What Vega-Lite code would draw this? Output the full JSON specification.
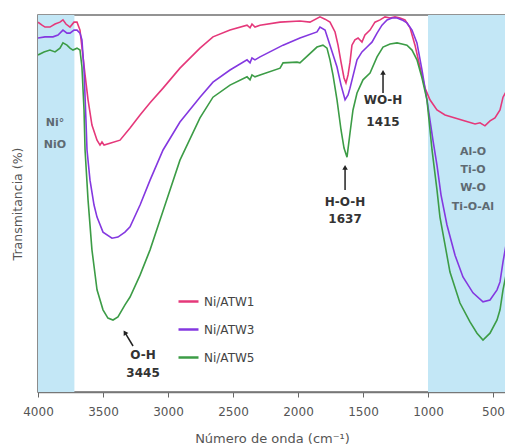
{
  "$schema": "https://vega.github.io/schema/vega-lite/v6.json",
  "autosize": {"type": "none"},
  "width": 468,
  "height": 377,
  "padding": {"left": 38, "top": 15, "right": 0, "bottom": 56},
  "background": "white",
  "config": {
    "view": {"stroke": "#707070", "strokeWidth": 1.6},
    "font": "DejaVu Sans"
  },
  "datasets": {
    "regions": [{"a": 4000, "b": 3720}, {"a": 1000, "b": 400}],
    "spectra": [
      {"s": "Ni/ATW1", "x": 4000, "t": 98.1}, {"s": "Ni/ATW1", "x": 3969, "t": 97.3}, {"s": "Ni/ATW1", "x": 3946, "t": 96.8}, {"s": "Ni/ATW1", "x": 3908, "t": 96.8}, {"s": "Ni/ATW1", "x": 3869, "t": 97.6}, {"s": "Ni/ATW1", "x": 3831, "t": 98.1}, {"s": "Ni/ATW1", "x": 3808, "t": 98.7}, {"s": "Ni/ATW1", "x": 3785, "t": 97.6}, {"s": "Ni/ATW1", "x": 3754, "t": 96.8}, {"s": "Ni/ATW1", "x": 3723, "t": 98.1}, {"s": "Ni/ATW1", "x": 3700, "t": 98.1}, {"s": "Ni/ATW1", "x": 3677, "t": 96.0}, {"s": "Ni/ATW1", "x": 3662, "t": 91.5}, {"s": "Ni/ATW1", "x": 3638, "t": 84.1}, {"s": "Ni/ATW1", "x": 3615, "t": 77.5}, {"s": "Ni/ATW1", "x": 3585, "t": 70.8}, {"s": "Ni/ATW1", "x": 3546, "t": 66.8}, {"s": "Ni/ATW1", "x": 3523, "t": 65.5}, {"s": "Ni/ATW1", "x": 3508, "t": 66.3}, {"s": "Ni/ATW1", "x": 3492, "t": 65.5}, {"s": "Ni/ATW1", "x": 3446, "t": 66.0}, {"s": "Ni/ATW1", "x": 3369, "t": 66.8}, {"s": "Ni/ATW1", "x": 3292, "t": 70.0}, {"s": "Ni/ATW1", "x": 3215, "t": 73.5}, {"s": "Ni/ATW1", "x": 3138, "t": 76.7}, {"s": "Ni/ATW1", "x": 3038, "t": 80.6}, {"s": "Ni/ATW1", "x": 2908, "t": 85.9}, {"s": "Ni/ATW1", "x": 2754, "t": 91.2}, {"s": "Ni/ATW1", "x": 2654, "t": 94.2}, {"s": "Ni/ATW1", "x": 2523, "t": 96.0}, {"s": "Ni/ATW1", "x": 2392, "t": 97.3}, {"s": "Ni/ATW1", "x": 2369, "t": 96.6}, {"s": "Ni/ATW1", "x": 2354, "t": 97.6}, {"s": "Ni/ATW1", "x": 2331, "t": 96.8}, {"s": "Ni/ATW1", "x": 2292, "t": 97.3}, {"s": "Ni/ATW1", "x": 2138, "t": 98.1}, {"s": "Ni/ATW1", "x": 1985, "t": 98.4}, {"s": "Ni/ATW1", "x": 1908, "t": 98.1}, {"s": "Ni/ATW1", "x": 1831, "t": 99.5}, {"s": "Ni/ATW1", "x": 1792, "t": 98.9}, {"s": "Ni/ATW1", "x": 1754, "t": 98.1}, {"s": "Ni/ATW1", "x": 1715, "t": 95.5}, {"s": "Ni/ATW1", "x": 1692, "t": 92.0}, {"s": "Ni/ATW1", "x": 1669, "t": 87.5}, {"s": "Ni/ATW1", "x": 1646, "t": 83.3}, {"s": "Ni/ATW1", "x": 1631, "t": 82.0}, {"s": "Ni/ATW1", "x": 1615, "t": 84.1}, {"s": "Ni/ATW1", "x": 1600, "t": 87.5}, {"s": "Ni/ATW1", "x": 1585, "t": 92.0}, {"s": "Ni/ATW1", "x": 1562, "t": 93.4}, {"s": "Ni/ATW1", "x": 1538, "t": 93.9}, {"s": "Ni/ATW1", "x": 1508, "t": 92.8}, {"s": "Ni/ATW1", "x": 1485, "t": 94.7}, {"s": "Ni/ATW1", "x": 1446, "t": 96.0}, {"s": "Ni/ATW1", "x": 1408, "t": 98.1}, {"s": "Ni/ATW1", "x": 1369, "t": 98.7}, {"s": "Ni/ATW1", "x": 1331, "t": 99.5}, {"s": "Ni/ATW1", "x": 1292, "t": 99.2}, {"s": "Ni/ATW1", "x": 1254, "t": 99.5}, {"s": "Ni/ATW1", "x": 1215, "t": 99.2}, {"s": "Ni/ATW1", "x": 1177, "t": 98.7}, {"s": "Ni/ATW1", "x": 1138, "t": 96.6}, {"s": "Ni/ATW1", "x": 1100, "t": 92.0}, {"s": "Ni/ATW1", "x": 1062, "t": 86.2}, {"s": "Ni/ATW1", "x": 1023, "t": 80.6}, {"s": "Ni/ATW1", "x": 985, "t": 77.5}, {"s": "Ni/ATW1", "x": 931, "t": 74.8}, {"s": "Ni/ATW1", "x": 869, "t": 73.5}, {"s": "Ni/ATW1", "x": 792, "t": 72.7}, {"s": "Ni/ATW1", "x": 715, "t": 71.9}, {"s": "Ni/ATW1", "x": 638, "t": 71.1}, {"s": "Ni/ATW1", "x": 600, "t": 71.4}, {"s": "Ni/ATW1", "x": 562, "t": 70.6}, {"s": "Ni/ATW1", "x": 523, "t": 71.9}, {"s": "Ni/ATW1", "x": 485, "t": 72.7}, {"s": "Ni/ATW1", "x": 446, "t": 74.8}, {"s": "Ni/ATW1", "x": 423, "t": 78.2}, {"s": "Ni/ATW1", "x": 400, "t": 79.6},
      {"s": "Ni/ATW3", "x": 4000, "t": 93.9}, {"s": "Ni/ATW3", "x": 3946, "t": 94.2}, {"s": "Ni/ATW3", "x": 3885, "t": 94.2}, {"s": "Ni/ATW3", "x": 3846, "t": 94.7}, {"s": "Ni/ATW3", "x": 3808, "t": 96.0}, {"s": "Ni/ATW3", "x": 3777, "t": 95.2}, {"s": "Ni/ATW3", "x": 3754, "t": 95.2}, {"s": "Ni/ATW3", "x": 3723, "t": 96.0}, {"s": "Ni/ATW3", "x": 3700, "t": 96.0}, {"s": "Ni/ATW3", "x": 3677, "t": 95.2}, {"s": "Ni/ATW3", "x": 3662, "t": 93.4}, {"s": "Ni/ATW3", "x": 3646, "t": 85.4}, {"s": "Ni/ATW3", "x": 3631, "t": 72.1}, {"s": "Ni/ATW3", "x": 3623, "t": 64.2}, {"s": "Ni/ATW3", "x": 3600, "t": 56.2}, {"s": "Ni/ATW3", "x": 3569, "t": 49.6}, {"s": "Ni/ATW3", "x": 3546, "t": 46.4}, {"s": "Ni/ATW3", "x": 3500, "t": 42.4}, {"s": "Ni/ATW3", "x": 3431, "t": 40.8}, {"s": "Ni/ATW3", "x": 3385, "t": 41.1}, {"s": "Ni/ATW3", "x": 3331, "t": 42.4}, {"s": "Ni/ATW3", "x": 3292, "t": 43.8}, {"s": "Ni/ATW3", "x": 3215, "t": 49.6}, {"s": "Ni/ATW3", "x": 3138, "t": 56.2}, {"s": "Ni/ATW3", "x": 3038, "t": 64.2}, {"s": "Ni/ATW3", "x": 2908, "t": 71.6}, {"s": "Ni/ATW3", "x": 2754, "t": 78.2}, {"s": "Ni/ATW3", "x": 2654, "t": 82.2}, {"s": "Ni/ATW3", "x": 2523, "t": 85.4}, {"s": "Ni/ATW3", "x": 2392, "t": 88.1}, {"s": "Ni/ATW3", "x": 2369, "t": 87.3}, {"s": "Ni/ATW3", "x": 2354, "t": 88.6}, {"s": "Ni/ATW3", "x": 2331, "t": 88.1}, {"s": "Ni/ATW3", "x": 2292, "t": 88.9}, {"s": "Ni/ATW3", "x": 2115, "t": 92.0}, {"s": "Ni/ATW3", "x": 1985, "t": 93.9}, {"s": "Ni/ATW3", "x": 1854, "t": 95.5}, {"s": "Ni/ATW3", "x": 1831, "t": 96.8}, {"s": "Ni/ATW3", "x": 1792, "t": 96.0}, {"s": "Ni/ATW3", "x": 1754, "t": 92.0}, {"s": "Ni/ATW3", "x": 1700, "t": 86.2}, {"s": "Ni/ATW3", "x": 1669, "t": 81.4}, {"s": "Ni/ATW3", "x": 1638, "t": 77.5}, {"s": "Ni/ATW3", "x": 1615, "t": 78.8}, {"s": "Ni/ATW3", "x": 1600, "t": 80.6}, {"s": "Ni/ATW3", "x": 1546, "t": 88.1}, {"s": "Ni/ATW3", "x": 1508, "t": 90.2}, {"s": "Ni/ATW3", "x": 1469, "t": 91.5}, {"s": "Ni/ATW3", "x": 1431, "t": 92.8}, {"s": "Ni/ATW3", "x": 1392, "t": 95.2}, {"s": "Ni/ATW3", "x": 1354, "t": 97.3}, {"s": "Ni/ATW3", "x": 1315, "t": 98.7}, {"s": "Ni/ATW3", "x": 1277, "t": 99.2}, {"s": "Ni/ATW3", "x": 1238, "t": 99.2}, {"s": "Ni/ATW3", "x": 1200, "t": 98.7}, {"s": "Ni/ATW3", "x": 1162, "t": 97.9}, {"s": "Ni/ATW3", "x": 1123, "t": 96.0}, {"s": "Ni/ATW3", "x": 1085, "t": 92.6}, {"s": "Ni/ATW3", "x": 1046, "t": 85.4}, {"s": "Ni/ATW3", "x": 1008, "t": 77.5}, {"s": "Ni/ATW3", "x": 962, "t": 66.8}, {"s": "Ni/ATW3", "x": 931, "t": 60.2}, {"s": "Ni/ATW3", "x": 900, "t": 52.3}, {"s": "Ni/ATW3", "x": 854, "t": 44.3}, {"s": "Ni/ATW3", "x": 792, "t": 36.3}, {"s": "Ni/ATW3", "x": 731, "t": 30.5}, {"s": "Ni/ATW3", "x": 654, "t": 26.3}, {"s": "Ni/ATW3", "x": 577, "t": 23.9}, {"s": "Ni/ATW3", "x": 523, "t": 24.4}, {"s": "Ni/ATW3", "x": 469, "t": 27.1}, {"s": "Ni/ATW3", "x": 446, "t": 29.2}, {"s": "Ni/ATW3", "x": 423, "t": 34.5}, {"s": "Ni/ATW3", "x": 400, "t": 39.0},
      {"s": "Ni/ATW5", "x": 4000, "t": 89.4}, {"s": "Ni/ATW5", "x": 3954, "t": 90.2}, {"s": "Ni/ATW5", "x": 3908, "t": 90.7}, {"s": "Ni/ATW5", "x": 3869, "t": 90.2}, {"s": "Ni/ATW5", "x": 3831, "t": 91.2}, {"s": "Ni/ATW5", "x": 3808, "t": 92.6}, {"s": "Ni/ATW5", "x": 3777, "t": 92.0}, {"s": "Ni/ATW5", "x": 3754, "t": 91.2}, {"s": "Ni/ATW5", "x": 3731, "t": 90.7}, {"s": "Ni/ATW5", "x": 3700, "t": 91.2}, {"s": "Ni/ATW5", "x": 3677, "t": 90.7}, {"s": "Ni/ATW5", "x": 3662, "t": 86.2}, {"s": "Ni/ATW5", "x": 3646, "t": 74.8}, {"s": "Ni/ATW5", "x": 3638, "t": 64.2}, {"s": "Ni/ATW5", "x": 3615, "t": 50.9}, {"s": "Ni/ATW5", "x": 3585, "t": 37.7}, {"s": "Ni/ATW5", "x": 3546, "t": 27.1}, {"s": "Ni/ATW5", "x": 3500, "t": 21.8}, {"s": "Ni/ATW5", "x": 3462, "t": 19.6}, {"s": "Ni/ATW5", "x": 3423, "t": 19.1}, {"s": "Ni/ATW5", "x": 3385, "t": 19.9}, {"s": "Ni/ATW5", "x": 3331, "t": 23.1}, {"s": "Ni/ATW5", "x": 3292, "t": 25.2}, {"s": "Ni/ATW5", "x": 3215, "t": 31.0}, {"s": "Ni/ATW5", "x": 3138, "t": 37.7}, {"s": "Ni/ATW5", "x": 3023, "t": 49.6}, {"s": "Ni/ATW5", "x": 2908, "t": 61.5}, {"s": "Ni/ATW5", "x": 2754, "t": 72.7}, {"s": "Ni/ATW5", "x": 2654, "t": 78.2}, {"s": "Ni/ATW5", "x": 2523, "t": 81.4}, {"s": "Ni/ATW5", "x": 2392, "t": 83.6}, {"s": "Ni/ATW5", "x": 2369, "t": 82.8}, {"s": "Ni/ATW5", "x": 2354, "t": 84.1}, {"s": "Ni/ATW5", "x": 2331, "t": 83.6}, {"s": "Ni/ATW5", "x": 2292, "t": 84.1}, {"s": "Ni/ATW5", "x": 2138, "t": 85.9}, {"s": "Ni/ATW5", "x": 2115, "t": 87.3}, {"s": "Ni/ATW5", "x": 2008, "t": 87.5}, {"s": "Ni/ATW5", "x": 1985, "t": 87.3}, {"s": "Ni/ATW5", "x": 1854, "t": 91.5}, {"s": "Ni/ATW5", "x": 1808, "t": 92.0}, {"s": "Ni/ATW5", "x": 1777, "t": 91.2}, {"s": "Ni/ATW5", "x": 1754, "t": 88.1}, {"s": "Ni/ATW5", "x": 1731, "t": 84.1}, {"s": "Ni/ATW5", "x": 1700, "t": 77.5}, {"s": "Ni/ATW5", "x": 1669, "t": 69.5}, {"s": "Ni/ATW5", "x": 1646, "t": 64.7}, {"s": "Ni/ATW5", "x": 1623, "t": 62.3}, {"s": "Ni/ATW5", "x": 1600, "t": 68.7}, {"s": "Ni/ATW5", "x": 1577, "t": 74.8}, {"s": "Ni/ATW5", "x": 1546, "t": 79.3}, {"s": "Ni/ATW5", "x": 1500, "t": 82.8}, {"s": "Ni/ATW5", "x": 1446, "t": 84.6}, {"s": "Ni/ATW5", "x": 1392, "t": 88.9}, {"s": "Ni/ATW5", "x": 1346, "t": 91.5}, {"s": "Ni/ATW5", "x": 1292, "t": 92.3}, {"s": "Ni/ATW5", "x": 1238, "t": 92.6}, {"s": "Ni/ATW5", "x": 1200, "t": 92.3}, {"s": "Ni/ATW5", "x": 1162, "t": 92.0}, {"s": "Ni/ATW5", "x": 1123, "t": 90.7}, {"s": "Ni/ATW5", "x": 1085, "t": 88.1}, {"s": "Ni/ATW5", "x": 1046, "t": 83.3}, {"s": "Ni/ATW5", "x": 1008, "t": 77.5}, {"s": "Ni/ATW5", "x": 969, "t": 64.2}, {"s": "Ni/ATW5", "x": 931, "t": 53.6}, {"s": "Ni/ATW5", "x": 908, "t": 46.4}, {"s": "Ni/ATW5", "x": 869, "t": 39.0}, {"s": "Ni/ATW5", "x": 831, "t": 31.8}, {"s": "Ni/ATW5", "x": 754, "t": 23.6}, {"s": "Ni/ATW5", "x": 677, "t": 18.6}, {"s": "Ni/ATW5", "x": 623, "t": 15.6}, {"s": "Ni/ATW5", "x": 577, "t": 13.8}, {"s": "Ni/ATW5", "x": 523, "t": 15.6}, {"s": "Ni/ATW5", "x": 469, "t": 19.1}, {"s": "Ni/ATW5", "x": 446, "t": 21.8}, {"s": "Ni/ATW5", "x": 423, "t": 27.1}, {"s": "Ni/ATW5", "x": 400, "t": 31.0}
    ],
    "regionLabels": [
      {"x": 3869, "t": 71.4, "label": "Ni°"},
      {"x": 3869, "t": 65.5, "label": "NiO"},
      {"x": 654, "t": 63.7, "label": "Al-O"},
      {"x": 654, "t": 58.9, "label": "Ti-O"},
      {"x": 654, "t": 54.1, "label": "W-O"},
      {"x": 654, "t": 49.1, "label": "Ti-O-Al"}
    ],
    "peakLabels": [
      {"x": 1346, "t": 77.5, "label": "WO-H"},
      {"x": 1346, "t": 71.6, "label": "1415"},
      {"x": 1638, "t": 50.4, "label": "H-O-H"},
      {"x": 1638, "t": 45.9, "label": "1637"},
      {"x": 3192, "t": 9.8, "label": "O-H"},
      {"x": 3192, "t": 5.0, "label": "3445"}
    ],
    "arrows": [
      {"x1": 1346, "y1": 79.3, "x2": 1346, "y2": 84.8, "ang": 0},
      {"x1": 1638, "y1": 53.6, "x2": 1638, "y2": 59.6, "ang": 0},
      {"x1": 3269, "y1": 12.2, "x2": 3332, "y2": 15.8, "ang": 329}
    ]
  },
  "layer": [
    {
      "data": {"name": "regions"},
      "mark": {"type": "rect", "color": "#c3e7f6"},
      "encoding": {
        "x": {"field": "a", "type": "quantitative", "scale": {"domain": [400, 4000], "reverse": true, "nice": false, "zero": false},
              "title": "Número de onda (cm⁻¹)",
              "axis": {
                "values": [4000, 3750, 3500, 3250, 3000, 2750, 2500, 2250, 2000, 1750, 1500, 1250, 1000, 750, 500],
                "labelExpr": "datum.value % 500 == 0 ? '' + datum.value : ''",
                "tickSize": {"condition": {"test": "datum.value % 500 == 0", "value": 5}, "value": 3},
                "grid": false, "tickColor": "#666", "domainColor": "#777", "domainWidth": 1.5,
                "labelFont": "DejaVu Sans", "labelFontSize": 12, "labelColor": "#555", "labelPadding": 9, "labelFlush": false, "labelOverlap": false,
                "titleFont": "DejaVu Sans", "titleFontSize": 13, "titleFontWeight": "normal", "titleColor": "#555", "titlePadding": 15
              }},
        "x2": {"field": "b"}
      }
    },
    {
      "data": {"name": "spectra"},
      "mark": {"type": "line", "strokeWidth": 1.6, "clip": true},
      "encoding": {
        "x": {"field": "x", "type": "quantitative", "title": "Número de onda (cm⁻¹)"},
        "y": {"field": "t", "type": "quantitative", "scale": {"domain": [0, 100], "nice": false},
              "axis": {"labels": false, "ticks": false, "domain": false, "grid": false,
                       "title": "Transmitancia (%)", "titleFont": "DejaVu Sans", "titleFontSize": 12.5, "titleFontWeight": "normal", "titleColor": "#555", "titlePadding": 14}},
        "color": {"field": "s", "type": "nominal",
                  "scale": {"domain": ["Ni/ATW1", "Ni/ATW3", "Ni/ATW5"], "range": ["#e5387a", "#8438e0", "#3c9c46"]},
                  "legend": {"orient": "none", "legendX": 139, "legendY": 275, "title": null, "symbolType": "stroke", "symbolSize": 400, "symbolStrokeWidth": 2.5,
                             "labelFont": "DejaVu Sans", "labelFontSize": 12, "labelColor": "#444", "rowPadding": 10, "labelOffset": 4, "padding": 0}}
      }
    },
    {
      "data": {"name": "regionLabels"},
      "mark": {"type": "text", "font": "DejaVu Sans", "fontWeight": "bold", "fontSize": 11, "color": "#5e6a72", "baseline": "middle", "align": "center"},
      "encoding": {
        "x": {"field": "x", "type": "quantitative", "title": "Número de onda (cm⁻¹)"},
        "y": {"field": "t", "type": "quantitative", "title": "Transmitancia (%)"},
        "text": {"field": "label"}
      }
    },
    {
      "data": {"name": "peakLabels"},
      "mark": {"type": "text", "font": "DejaVu Sans", "fontWeight": "bold", "fontSize": 12, "color": "#333333", "baseline": "middle", "align": "center"},
      "encoding": {
        "x": {"field": "x", "type": "quantitative", "title": "Número de onda (cm⁻¹)"},
        "y": {"field": "t", "type": "quantitative", "title": "Transmitancia (%)"},
        "text": {"field": "label"}
      }
    },
    {
      "data": {"name": "arrows"},
      "mark": {"type": "rule", "color": "#222222", "strokeWidth": 1.5},
      "encoding": {
        "x": {"field": "x1", "type": "quantitative", "title": "Número de onda (cm⁻¹)"},
        "y": {"field": "y1", "type": "quantitative", "title": "Transmitancia (%)"},
        "x2": {"field": "x2"},
        "y2": {"field": "y2"}
      }
    },
    {
      "data": {"name": "arrows"},
      "mark": {"type": "point", "shape": "triangle-up", "filled": true, "color": "#222222", "size": 30, "opacity": 1},
      "encoding": {
        "x": {"field": "x2", "type": "quantitative", "title": "Número de onda (cm⁻¹)"},
        "y": {"field": "y2", "type": "quantitative", "title": "Transmitancia (%)"},
        "angle": {"field": "ang", "type": "quantitative", "scale": null}
      }
    }
  ]
}
